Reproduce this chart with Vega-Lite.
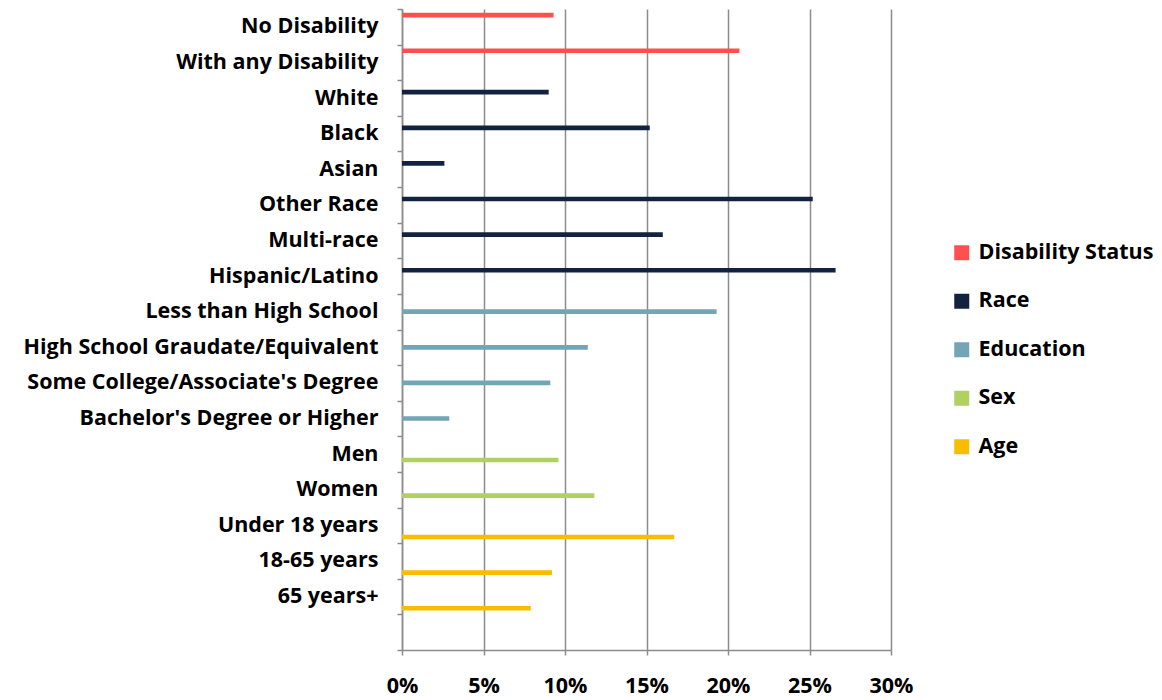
{
  "$schema": "https://vega.github.io/schema/vega-lite/v6.json",
  "autosize": {"type": "none"},
  "width": 489,
  "height": 641,
  "padding": {"left": 402, "top": 9, "right": 271, "bottom": 50},
  "background": "white",
  "data": {
    "values": [
      {"category": "No Disability", "group": "Disability Status", "value": 9.3},
      {"category": "With any Disability", "group": "Disability Status", "value": 20.7},
      {"category": "White", "group": "Race", "value": 9.0},
      {"category": "Black", "group": "Race", "value": 15.2},
      {"category": "Asian", "group": "Race", "value": 2.6},
      {"category": "Other Race", "group": "Race", "value": 25.2},
      {"category": "Multi-race", "group": "Race", "value": 16.0},
      {"category": "Hispanic/Latino", "group": "Race", "value": 26.6},
      {"category": "Less than High School", "group": "Education", "value": 19.3},
      {"category": "High School Graudate/Equivalent", "group": "Education", "value": 11.4},
      {"category": "Some College/Associate's Degree", "group": "Education", "value": 9.1},
      {"category": "Bachelor's Degree or Higher", "group": "Education", "value": 2.9},
      {"category": "Men", "group": "Sex", "value": 9.6},
      {"category": "Women", "group": "Sex", "value": 11.8},
      {"category": "Under 18 years", "group": "Age", "value": 16.7},
      {"category": "18-65 years", "group": "Age", "value": 9.2},
      {"category": "65 years+", "group": "Age", "value": 7.9}
    ]
  },
  "mark": {"type": "bar", "cornerRadius": 0},
  "encoding": {
    "y": {
      "field": "category",
      "type": "nominal",
      "scale": {
        "domain": ["No Disability", "With any Disability", "White", "Black", "Asian", "Other Race", "Multi-race", "Hispanic/Latino", "Less than High School", "High School Graudate/Equivalent", "Some College/Associate's Degree", "Bachelor's Degree or Higher", "Men", "Women", "Under 18 years", "18-65 years", "65 years+", " "],
        "paddingInner": 0,
        "paddingOuter": 0
      },
      "axis": {
        "title": null,
        "tickBand": "extent",
        "grid": false,
        "domainColor": "#8c8c8c",
        "domainWidth": 1.5,
        "tickColor": "#8c8c8c",
        "tickWidth": 1.5,
        "tickSize": 5,
        "labelPadding": 19,
        "labelFont": "Open Sans",
        "labelFontWeight": "bold",
        "labelFontSize": 21.5,
        "labelColor": "#000000",
        "labelLimit": 420
      }
    },
    "yOffset": {
      "field": "group",
      "type": "nominal",
      "scale": {
        "domain": ["Disability Status", "Race", "Education", "Sex", "Age"],
        "paddingInner": 0.2,
        "paddingOuter": 0.65
      }
    },
    "x": {
      "field": "value",
      "type": "quantitative",
      "scale": {"domain": [0, 30], "nice": false},
      "axis": {
        "title": null,
        "values": [0, 5, 10, 15, 20, 25, 30],
        "labelExpr": "datum.value + '%'",
        "labelFlush": false,
        "labelOverlap": false,
        "grid": true,
        "gridColor": "#8c8c8c",
        "gridWidth": 1.5,
        "domainColor": "#8c8c8c",
        "domainWidth": 1.5,
        "tickColor": "#8c8c8c",
        "tickWidth": 1.5,
        "tickSize": 5,
        "labelPadding": 20,
        "labelFont": "Open Sans",
        "labelFontWeight": "bold",
        "labelFontSize": 21.5,
        "labelColor": "#000000"
      }
    },
    "color": {
      "field": "group",
      "type": "nominal",
      "scale": {
        "domain": ["Disability Status", "Race", "Education", "Sex", "Age"],
        "range": ["#FF5050", "#13233F", "#72A5B5", "#B0D160", "#F8BD00"]
      },
      "legend": {
        "title": null,
        "orient": "none",
        "legendX": 549,
        "legendY": 233,
        "symbolType": "square",
        "symbolSize": 225,
        "symbolStrokeWidth": 0,
        "labelFont": "Open Sans",
        "labelFontWeight": "bold",
        "labelFontSize": 21.5,
        "labelColor": "#000000",
        "labelOffset": 6,
        "rowPadding": 25.5,
        "labelLimit": 300
      }
    }
  },
  "config": {"view": {"stroke": null}}
}
